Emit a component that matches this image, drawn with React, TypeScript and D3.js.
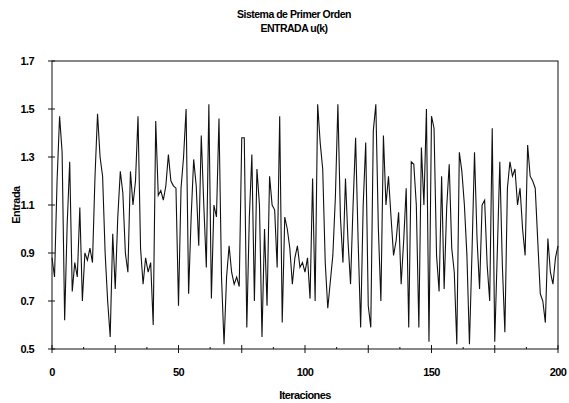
import React, { useEffect, useRef } from "react";
import * as d3 from "d3";

// input signal u(k) (iterations 0..200)
const entrada: number[] = [
  0.88, 0.8, 1.2, 1.47, 1.32, 0.62, 1.02, 1.28, 0.74, 0.86,
  0.8, 1.09, 0.7, 0.9, 0.87, 0.92, 0.86, 1.22, 1.48, 1.3,
  1.22, 0.9, 0.7, 0.55, 0.98, 0.75, 1.05, 1.24, 1.15, 0.9,
  0.82, 1.24, 1.1, 1.2, 1.47, 0.92, 0.77, 0.88, 0.82, 0.86,
  0.6, 1.45, 1.14, 1.16, 1.12, 1.18, 1.31, 1.2, 1.18, 1.17,
  0.68, 1.17, 1.3, 1.5, 0.73, 1.05, 1.29, 1.18, 0.93, 1.39,
  1.1, 0.84, 1.52, 0.71, 1.1, 1.05, 1.46, 0.8, 0.52, 0.8,
  0.93, 0.82, 0.77, 0.8, 0.76, 1.38, 1.38, 0.59, 1.05, 1.31,
  0.7, 1.25, 1.1, 0.55, 1.0, 0.68, 1.22, 1.1, 1.08, 0.84,
  1.47, 0.61, 1.05, 1.0, 0.92, 0.77, 0.88, 0.93, 0.84, 0.86,
  0.82, 0.88, 0.71, 1.21, 0.7, 1.52, 1.36, 1.25, 0.86, 0.67,
  0.78, 0.89, 1.13, 1.52, 1.05, 0.86, 1.21, 0.95, 0.77, 1.1,
  1.38, 0.95, 0.59, 1.1, 1.36, 0.68, 0.59, 1.41, 1.52, 1.0,
  0.7, 1.39, 1.1, 1.22, 1.05, 0.89, 0.95, 1.07, 0.77, 0.95,
  1.17, 0.59, 1.28, 1.27, 1.1, 0.59, 1.34, 1.1, 1.5, 0.53,
  1.47, 1.42, 0.89, 0.74, 1.22, 0.75, 1.09, 1.27, 0.92, 0.82,
  0.52, 1.32, 1.24, 1.1, 0.89, 0.52, 0.9, 1.32, 0.96, 0.75,
  1.1, 1.12, 0.85, 0.7, 1.42, 0.53, 0.9, 1.28, 0.85, 0.57,
  1.17, 1.28, 1.22, 1.25, 1.1, 1.17, 1.0, 0.89, 1.35, 1.22,
  1.2, 1.17, 0.95, 0.73, 0.7, 0.61, 0.96, 0.82, 0.77, 0.88,
  0.93,
];

const yTicks = [0.5, 0.7, 0.9, 1.1, 1.3, 1.5, 1.7];
const xTicks = [0, 50, 100, 150, 200];
const titleLines = ["Sistema de Primer Orden", "ENTRADA u(k)"];

const App = () => {
  const ref = useRef<SVGSVGElement>(null);

  useEffect(() => {
    const W = 569;
    const H = 403;
    const m = { top: 61, right: 11, bottom: 54, left: 52 };
    const width = W - m.left - m.right;
    const height = H - m.top - m.bottom;
    const font = "'Liberation Sans', Arial, sans-serif";

    const svg = d3.select(ref.current).attr("width", W).attr("height", H);
    svg.selectAll("*").remove();

    svg.append("rect").attr("width", W).attr("height", H).attr("fill", "#fff");

    const g = svg.append("g").attr("transform", `translate(${m.left},${m.top})`);

    const x = d3.scaleLinear().domain([0, 200]).range([0, width]);
    const y = d3.scaleLinear().domain([0.5, 1.7]).range([height, 0]);

    // plot frame
    g.append("rect")
      .attr("width", width)
      .attr("height", height)
      .attr("fill", "none")
      .attr("stroke", "#111")
      .attr("stroke-width", 1);

    // y ticks (cross the axis)
    yTicks.forEach((t) => {
      g.append("line")
        .attr("x1", -4)
        .attr("x2", 3)
        .attr("y1", y(t))
        .attr("y2", y(t))
        .attr("stroke", "#111");
      g.append("text")
        .attr("x", -18)
        .attr("y", y(t) + 4)
        .attr("text-anchor", "end")
        .attr("font-family", font)
        .attr("font-weight", "bold")
        .attr("font-size", 11)
        .attr("letter-spacing", -0.6)
        .text(t.toFixed(1));
    });

    // x ticks: major every 25, minor halfway
    d3.range(0, 201, 25).forEach((t) => {
      g.append("line")
        .attr("x1", x(t))
        .attr("x2", x(t))
        .attr("y1", height - 4)
        .attr("y2", height + 4)
        .attr("stroke", "#111");
    });
    d3.range(12.5, 200, 25).forEach((t) => {
      g.append("line")
        .attr("x1", x(t))
        .attr("x2", x(t))
        .attr("y1", height - 2)
        .attr("y2", height)
        .attr("stroke", "#111");
    });
    xTicks.forEach((t) => {
      g.append("text")
        .attr("x", x(t))
        .attr("y", height + 27)
        .attr("text-anchor", "middle")
        .attr("font-family", font)
        .attr("font-weight", "bold")
        .attr("font-size", 11)
        .attr("letter-spacing", -0.6)
        .text(t);
    });

    const line = d3
      .line<number>()
      .x((d, i) => x(i))
      .y((d) => y(d));

    g.append("path")
      .datum(entrada)
      .attr("fill", "none")
      .attr("stroke", "#111")
      .attr("stroke-width", 1.1)
      .attr("d", line);

    // titles
    titleLines.forEach((t, i) => {
      svg.append("text")
        .attr("x", 294)
        .attr("y", 18 + i * 14)
        .attr("text-anchor", "middle")
        .attr("font-family", font)
        .attr("font-weight", "bold")
        .attr("font-size", 10.5)
        .attr("letter-spacing", -0.5)
        .text(t);
    });

    svg.append("text")
      .attr("transform", `translate(20,${m.top + height / 2}) rotate(-90)`)
      .attr("text-anchor", "middle")
      .attr("font-family", font)
      .attr("font-weight", "bold")
      .attr("font-size", 11)
      .attr("letter-spacing", -0.5)
      .text("Entrada");

    svg.append("text")
      .attr("x", m.left + width / 2)
      .attr("y", 399)
      .attr("text-anchor", "middle")
      .attr("font-family", font)
      .attr("font-weight", "bold")
      .attr("font-size", 11)
      .attr("letter-spacing", -0.6)
      .text("Iteraciones");
  }, []);

  return (
    <div>
      <svg ref={ref} style={{ position: "absolute", left: 0, top: 0 }}></svg>
    </div>
  );
};

export default App;
